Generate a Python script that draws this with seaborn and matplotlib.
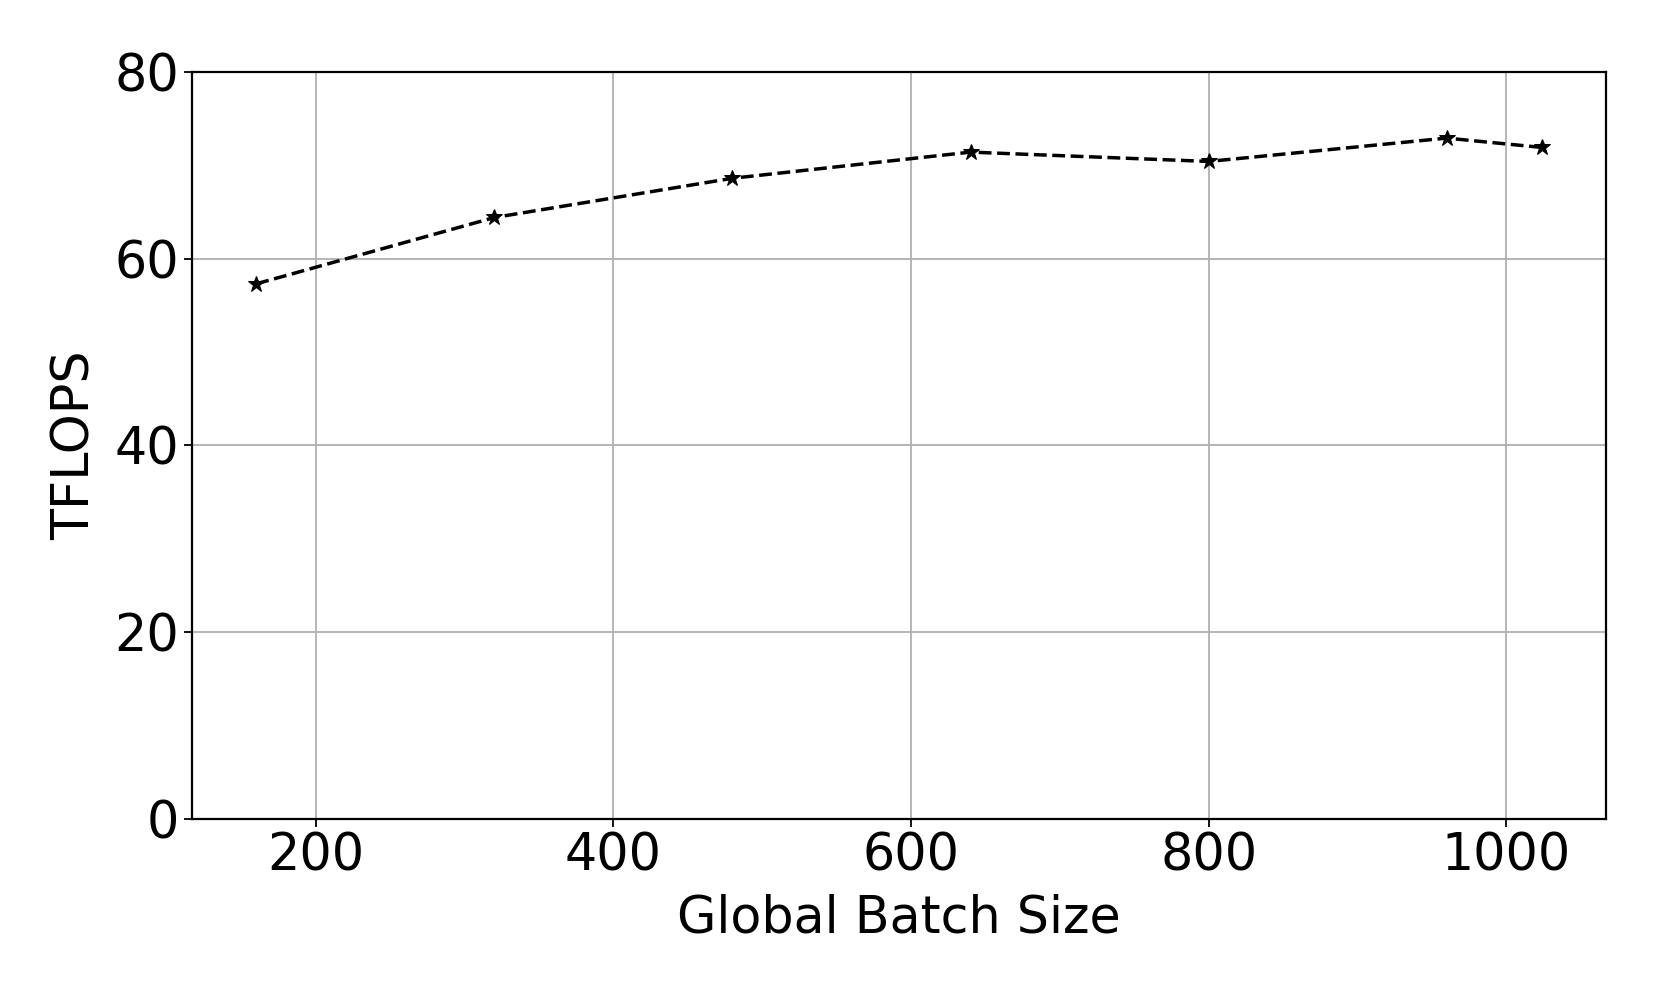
import matplotlib
matplotlib.use("Agg")
import matplotlib.pyplot as plt
import seaborn as sns
import pandas as pd

# === Data ===
batch_size = [160, 320, 480, 640, 800, 960, 1024]
tflops = [57.3, 64.4, 68.6, 71.4, 70.4, 72.9, 71.9]

df = pd.DataFrame({"Global Batch Size": batch_size, "TFLOPS": tflops})

# === Style ===
sns.set_style("ticks")
plt.rcParams['font.family'] = ['DejaVu Sans']
plt.rcParams['text.color'] = 'black'
plt.rcParams['axes.labelcolor'] = 'black'
plt.rcParams['xtick.color'] = 'black'
plt.rcParams['ytick.color'] = 'black'
plt.rcParams['axes.linewidth'] = 1.6
plt.rcParams['xtick.major.size'] = 5.8
plt.rcParams['ytick.major.size'] = 5.8
plt.rcParams['xtick.major.width'] = 1.3
plt.rcParams['ytick.major.width'] = 1.3

fig, ax = plt.subplots(figsize=(16.61, 9.97), dpi=100)
fig.subplots_adjust(left=0.1156, right=0.967, top=0.928, bottom=0.1785)

sns.lineplot(data=df, x="Global Batch Size", y="TFLOPS", ax=ax,
             color="black", linestyle="--", linewidth=2.5,
             marker="*", markersize=12, markeredgecolor="black")

ax.set_ylim(0, 80)
ax.set_yticks([0, 20, 40, 60, 80])
ax.set_xticks([200, 400, 600, 800, 1000])
ax.grid(True, color="#b0b0b0", linewidth=1.3)
ax.set_axisbelow(True)
for s in ax.spines.values():
    s.set_visible(True)
    s.set_color("black")

ax.tick_params(labelsize=36.5)
ax.set_xlabel("Global Batch Size", fontsize=36.5, labelpad=8)
ax.set_ylabel("TFLOPS", fontsize=36.5, labelpad=10)

fig.savefig("out.png", dpi=100)
